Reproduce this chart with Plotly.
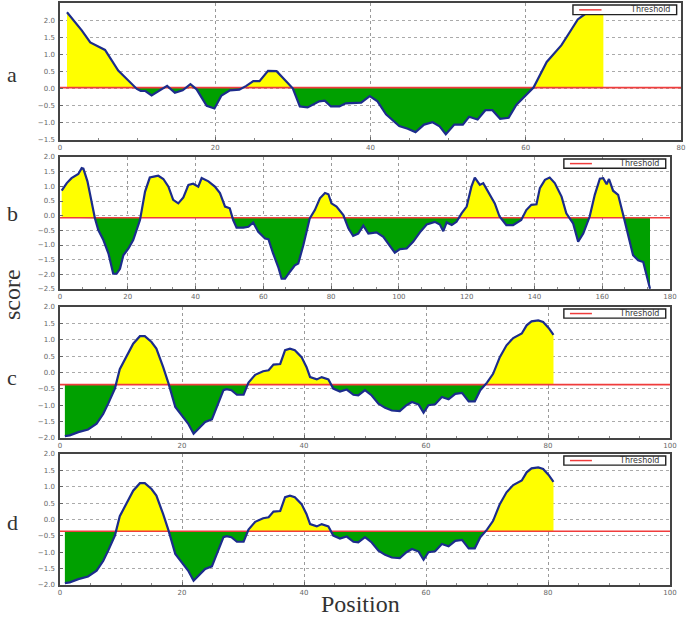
import plotly.graph_objects as go

# panel a
pos_a = [0.9, 2.8, 3.9, 5.8, 7.5, 9.0, 9.9, 10.4, 11.0, 11.8,
         12.9, 13.8, 14.8, 15.8, 16.8, 17.6, 18.9, 19.9, 20.8, 21.9,
         23.1, 24.0, 24.9, 25.7, 26.8, 27.9, 29.4, 30.0, 30.9, 31.9,
         33.4, 34.1, 34.9, 36.0, 36.8, 38.8, 39.9, 40.9, 42.0, 43.7,
         44.8, 45.8, 46.9, 48.0, 48.9, 49.7, 50.8, 51.9, 52.7, 53.8,
         54.8, 55.7, 56.7, 57.8, 58.8, 59.9, 61.0, 62.7, 63.8, 64.6,
         65.7, 66.7, 67.6, 68.2, 70.0]
score_a = [2.23, 1.70, 1.35, 1.13, 0.53, 0.18, -0.01, -0.07, -0.07, -0.20,
           -0.05, 0.08, -0.12, -0.05, 0.13, -0.02, -0.50, -0.58, -0.20, -0.05,
           -0.03, 0.08, 0.22, 0.22, 0.52, 0.51, 0.15, 0.00, -0.52, -0.55,
           -0.37, -0.35, -0.52, -0.52, -0.43, -0.41, -0.22, -0.37, -0.75, -1.09,
           -1.17, -1.27, -1.05, -0.98, -1.10, -1.33, -1.05, -1.05, -0.82, -0.90,
           -0.63, -0.63, -0.88, -0.85, -0.47, -0.23, 0.03, 0.78, 1.07, 1.27,
           1.66, 2.02, 2.17, 2.22, 2.25]

# panel b
pos_b = [0.5, 2.0, 3.4, 5.4, 6.4, 6.9, 8.1, 9.3, 10.3, 11.3,
         12.8, 14.3, 15.7, 16.7, 17.7, 18.7, 20.2, 21.6, 23.6, 25.1,
         26.5, 28.0, 29.0, 30.5, 32.0, 33.4, 34.9, 36.4, 37.9, 39.3,
         40.8, 41.8, 43.8, 45.7, 47.2, 48.7, 50.1, 51.1, 52.1, 54.1,
         55.6, 57.0, 58.5, 60.5, 61.5, 62.9, 64.4, 65.4, 66.4, 67.8,
         69.3, 70.3, 71.8, 73.7, 75.2, 76.7, 78.2, 79.2, 80.1, 81.6,
         83.6, 85.1, 86.5, 88.0, 89.5, 91.0, 93.4, 95.4, 97.3, 98.8,
         100.3, 102.3, 104.2, 106.2, 108.2, 110.6, 112.1, 113.1, 114.1, 115.6,
         117.0, 118.5, 120.0, 121.4, 122.4, 123.9, 124.9, 126.3, 128.3, 129.7,
         131.7, 133.7, 136.1, 137.6, 139.1, 140.6, 141.6, 143.1, 144.5, 146.0,
         148.0, 149.4, 151.4, 152.9, 154.4, 156.3, 157.8, 159.3, 160.3, 161.3,
         162.0, 163.2, 164.7, 166.2, 167.6, 169.1, 170.6, 172.1, 174.1]
score_b = [0.85, 1.11, 1.28, 1.42, 1.62, 1.60, 1.17, 0.48, -0.09, -0.49,
           -0.83, -1.29, -1.98, -1.98, -1.81, -1.35, -1.12, -0.83, -0.15, 0.82,
           1.30, 1.34, 1.36, 1.25, 0.99, 0.54, 0.42, 0.62, 1.05, 1.09,
           0.99, 1.28, 1.17, 0.99, 0.77, 0.31, 0.25, -0.15, -0.41, -0.41,
           -0.38, -0.23, -0.55, -0.78, -0.80, -1.29, -1.75, -2.15, -2.15, -1.92,
           -1.69, -1.63, -1.01, -0.09, 0.19, 0.59, 0.77, 0.73, 0.42, 0.31,
           0.02, -0.43, -0.69, -0.61, -0.34, -0.61, -0.57, -0.72, -1.01, -1.26,
           -1.14, -1.12, -0.89, -0.57, -0.30, -0.21, -0.30, -0.53, -0.23, -0.32,
           -0.21, 0.08, 0.31, 0.99, 1.30, 1.05, 1.11, 0.82, 0.42, -0.03,
           -0.32, -0.32, -0.15, 0.19, 0.37, 0.39, 0.94, 1.22, 1.30, 1.11,
           0.65, 0.08, -0.26, -0.89, -0.61, -0.03, 0.71, 1.26, 1.28, 1.07,
           1.25, 0.85, 0.71, 0.02, -0.66, -1.35, -1.52, -1.58, -2.49]

# panels c and d (same profile)
pos_c = [0.8, 1.6, 3.0, 4.6, 6.0, 7.1, 7.9, 9.0, 9.8, 11.2,
         12.0, 13.1, 13.9, 15.0, 15.8, 16.9, 17.8, 18.9, 19.9, 21.0,
         21.9, 22.7, 23.8, 24.9, 25.7, 26.8, 27.3, 28.1, 29.0, 30.1,
         30.9, 32.0, 33.3, 34.2, 35.0, 36.1, 36.9, 37.7, 38.5, 39.6,
         40.4, 41.0, 42.1, 42.9, 44.0, 44.8, 45.9, 47.0, 48.1, 48.9,
         50.0, 51.1, 52.2, 53.3, 54.4, 55.7, 56.8, 57.7, 58.8, 59.6,
         60.4, 61.5, 62.6, 63.7, 64.8, 65.9, 67.0, 68.0, 68.9, 70.0,
         71.0, 72.1, 73.2, 74.3, 75.7, 76.5, 77.3, 78.4, 79.2, 80.1,
         80.9]
score_c = [-1.94, -1.92, -1.82, -1.74, -1.56, -1.26, -0.95, -0.49, 0.10, 0.58,
           0.88, 1.11, 1.11, 0.93, 0.73, 0.17, -0.34, -1.05, -1.31, -1.56,
           -1.87, -1.71, -1.51, -1.43, -1.05, -0.54, -0.51, -0.54, -0.68, -0.68,
           -0.31, -0.07, 0.04, 0.07, 0.24, 0.26, 0.68, 0.73, 0.68, 0.47,
           0.17, -0.14, -0.21, -0.14, -0.21, -0.49, -0.58, -0.52, -0.68, -0.70,
           -0.54, -0.70, -0.95, -1.08, -1.16, -1.18, -1.00, -0.90, -0.98, -1.23,
           -1.00, -0.97, -0.75, -0.82, -0.65, -0.62, -0.88, -0.88, -0.54, -0.31,
           -0.04, 0.47, 0.83, 1.05, 1.19, 1.44, 1.56, 1.59, 1.54, 1.36,
           1.15]
pos_d = pos_c
score_d = score_c

labels = ["a", "b", "c", "d"]
thresholds = [0.03, -0.07, -0.37, -0.36]
x_max = [80, 180, 100, 100]
y_ranges = [(-1.5, 2.5), (-2.5, 2.0), (-2.0, 2.0), (-2.0, 2.0)]
series = [(pos_a, score_a), (pos_b, score_b), (pos_c, score_c), (pos_d, score_d)]

W, H = 690, 618
# pixel boxes of each panel: left, right, top, bottom
boxes = [(60, 681, 3, 140), (60, 670, 157, 289), (60, 670, 307, 438), (60, 670, 454, 585)]
label_y = [75, 213, 378, 522]


def split_fill(xs, ys, thr):
    # add the threshold crossings so the two colours meet on the curve
    px, py = [xs[0]], [ys[0]]
    for i in range(1, len(xs)):
        y0, y1 = ys[i - 1], ys[i]
        if (y0 - thr) * (y1 - thr) < 0:
            t = (thr - y0) / (y1 - y0)
            px.append(xs[i - 1] + t * (xs[i] - xs[i - 1]))
            py.append(thr)
        px.append(xs[i])
        py.append(ys[i])
    return px, [max(v, thr) for v in py], [min(v, thr) for v in py]


fig = go.Figure()
layout = {}
shapes = []
annotations = []
tick_font = dict(family="DejaVu Sans", size=7, color="#666")

for k in range(4):
    s = "" if k == 0 else str(k + 1)
    xs, ys = series[k]
    thr = thresholds[k]
    px, upper, lower = split_fill(xs, ys, thr)
    base = [thr] * len(px)
    ax = dict(xaxis="x" + s, yaxis="y" + s, hoverinfo="skip", showlegend=False)

    fig.add_trace(go.Scatter(x=px, y=base, mode="lines", line=dict(width=0), **ax))
    fig.add_trace(go.Scatter(x=px, y=upper, mode="lines", line=dict(width=0),
                             fill="tonexty", fillcolor="#FFFF00", **ax))
    fig.add_trace(go.Scatter(x=px, y=base, mode="lines", line=dict(width=0), **ax))
    fig.add_trace(go.Scatter(x=px, y=lower, mode="lines", line=dict(width=0),
                             fill="tonexty", fillcolor="#00A000", **ax))
    fig.add_trace(go.Scatter(x=[0, x_max[k]], y=[thr, thr], mode="lines",
                             line=dict(color="#F03C3C", width=1.6), **ax))
    fig.add_trace(go.Scatter(x=xs, y=ys, mode="lines",
                             line=dict(color="#1C2C8C", width=2.2), **ax))

    l, r, t, b = boxes[k]
    y0, y1 = y_ranges[k]
    layout["xaxis" + s] = dict(
        domain=[l / W, r / W], anchor="y" + s, range=[0, x_max[k]],
        tickvals=list(range(0, x_max[k] + 1, 20)), tickfont=tick_font,
        showgrid=True, gridcolor="#999", griddash="dot", gridwidth=1,
        zeroline=False, showline=True, linecolor="#444", linewidth=1.5, mirror=True,
        ticks="inside", ticklen=3, tickcolor="#666",
        minor=dict(dtick=5 if x_max[k] <= 100 else 20 / 3, ticks="inside",
                   ticklen=2, tickcolor="#888", showgrid=False),
        fixedrange=True, automargin=False,
    )
    layout["yaxis" + s] = dict(
        domain=[1 - b / H, 1 - t / H], anchor="x" + s, range=[y0, y1],
        dtick=0.5, tick0=0, tickformat=".1f", tickfont=tick_font,
        showgrid=True, gridcolor="#aaa", griddash="dot", gridwidth=1,
        zeroline=False, showline=True, linecolor="#444", linewidth=1.5, mirror=True,
        ticks="inside", ticklen=3, tickcolor="#666", ticklabelstandoff=2,
        fixedrange=True, automargin=False,
    )

    # small threshold key in the top right corner of the panel
    xr, yr = "x" + s + " domain", "y" + s + " domain"
    shapes.append(dict(type="rect", xref=xr, yref=yr, x0=0.826, x1=0.993,
                       y0=0.915, y1=0.985, line=dict(color="#222", width=1.4),
                       fillcolor="white", layer="above"))
    shapes.append(dict(type="line", xref=xr, yref=yr, x0=0.836, x1=0.872,
                       y0=0.95, y1=0.95, line=dict(color="#F03C3C", width=1.5),
                       layer="above"))
    annotations.append(dict(text="Threshold", xref=xr, yref=yr, x=0.986, y=0.95,
                            xanchor="right", yanchor="middle", showarrow=False,
                            font=dict(family="DejaVu Sans", size=8, color="#333")))

    annotations.append(dict(text=labels[k], xref="paper", yref="paper",
                            x=12 / W, y=1 - label_y[k] / H, xanchor="center",
                            yanchor="middle", showarrow=False,
                            font=dict(family="Liberation Serif", size=22, color="#333")))

annotations.append(dict(text="score", xref="paper", yref="paper", x=12 / W,
                        y=1 - 295 / H, textangle=-90, xanchor="center",
                        yanchor="middle", showarrow=False,
                        font=dict(family="Liberation Serif", size=24, color="#333")))
annotations.append(dict(text="Position", xref="paper", yref="paper", x=360 / W,
                        y=1 - 604 / H, xanchor="center", yanchor="middle",
                        showarrow=False,
                        font=dict(family="Liberation Serif", size=24, color="#333")))

fig.update_layout(
    width=W, height=H,
    margin=dict(l=0, r=0, t=0, b=0),
    paper_bgcolor="white", plot_bgcolor="white",
    shapes=shapes, annotations=annotations, showlegend=False,
    **layout,
)

# the page body has a default margin; drop it so the figure fills the window
fig.write_html("out.html", config={"displayModeBar": False},
               post_script="document.body.style.margin='0';")
